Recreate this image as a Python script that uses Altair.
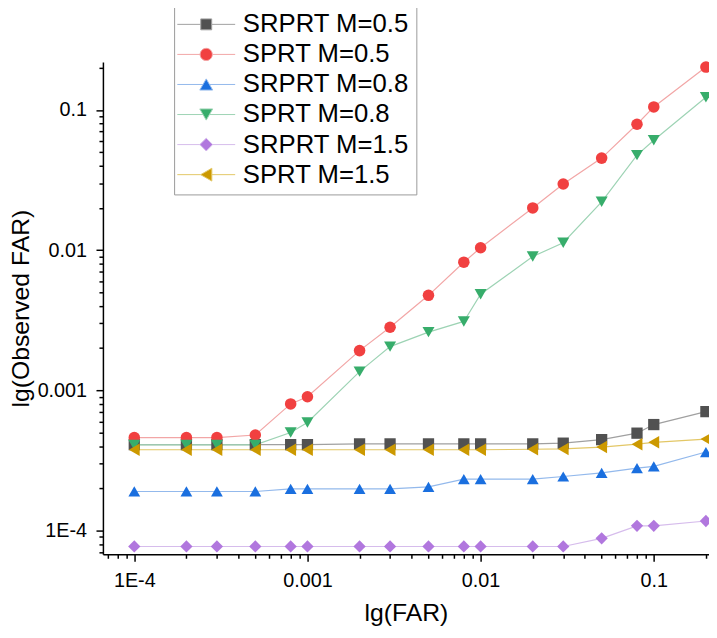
import altair as alt
import pandas as pd

FONT = "Liberation Sans"

# ---------------- data ----------------
FAR = [1e-4, 2e-4, 3e-4, 5e-4, 8e-4, 1e-3, 2e-3, 3e-3, 5e-3, 8e-3,
       1e-2, 2e-2, 3e-2, 5e-2, 8e-2, 0.1, 0.2]

SERIES = ["SRPRT M=0.5", "SPRT M=0.5", "SRPRT M=0.8",
          "SPRT M=0.8", "SRPRT M=1.5", "SPRT M=1.5"]

srprt_05 = [4.1e-4, 4.1e-4, 4.1e-4, 4.1e-4, 4.1e-4, 4.1e-4, 4.15e-4, 4.15e-4, 4.15e-4,
            4.15e-4, 4.15e-4, 4.15e-4, 4.2e-4, 4.45e-4, 4.95e-4, 5.7e-4, 7.05e-4]
sprt_05 = [4.6e-4, 4.6e-4, 4.6e-4, 4.8e-4, 8.0e-4, 9.0e-4, 1.92e-3, 2.82e-3, 4.76e-3,
           8.2e-3, 1.04e-2, 2.0e-2, 2.96e-2, 4.53e-2, 7.9e-2, 0.105, 0.202]
srprt_08 = [1.9e-4, 1.9e-4, 1.9e-4, 1.9e-4, 1.98e-4, 1.98e-4, 1.98e-4, 1.98e-4, 2.05e-4,
            2.33e-4, 2.33e-4, 2.33e-4, 2.43e-4, 2.58e-4, 2.79e-4, 2.87e-4, 3.63e-4]
sprt_08 = [4.08e-4, 4.08e-4, 4.08e-4, 4.08e-4, 5.0e-4, 5.9e-4, 1.36e-3, 2.05e-3, 2.6e-3,
           3.1e-3, 4.85e-3, 9.0e-3, 1.13e-2, 2.21e-2, 4.76e-2, 6.07e-2, 0.123]
srprt_15 = [7.7e-5, 7.7e-5, 7.7e-5, 7.7e-5, 7.7e-5, 7.7e-5, 7.7e-5, 7.7e-5, 7.7e-5,
            7.7e-5, 7.7e-5, 7.7e-5, 7.7e-5, 8.8e-5, 1.08e-4, 1.08e-4, 1.17e-4]
sprt_15 = [3.77e-4, 3.77e-4, 3.77e-4, 3.77e-4, 3.77e-4, 3.77e-4, 3.77e-4, 3.77e-4, 3.77e-4,
           3.77e-4, 3.77e-4, 3.8e-4, 3.82e-4, 3.94e-4, 4.13e-4, 4.26e-4, 4.49e-4]

VALUES = [srprt_05, sprt_05, srprt_08, sprt_08, srprt_15, sprt_15]

X_TICKS = [1e-4, 1e-3, 1e-2, 1e-1]
X_TICK_LABELS = ["1E-4", "0.001", "0.01", "0.1"]
Y_TICKS = [1e-4, 1e-3, 1e-2, 1e-1]
Y_TICK_LABELS = ["1E-4", "0.001", "0.01", "0.1"]

X_TITLE = "lg(FAR)"
Y_TITLE = "lg(Observed FAR)"

# ---------------- styles ----------------
COLORS = ["#515151", "#F14040", "#1A6FDF", "#37AD6B", "#B177DE", "#CC9900"]
LINE_COLORS = ["#a0a0a0", "#f2a6a6", "#93b9ec", "#9dd3b4", "#d6bcec", "#e3c766"]
SHAPES = ["square", "circle", "triangle-up", "triangle-down", "diamond", "triangle-left"]
SIZES = [130, 160, 190, 190, 180, 190]
LEG_PATHS = [
    "M-4.5,0H-0.85M0.85,0H4.5M-0.85,-0.85H0.85V0.85H-0.85Z",
    "M-4.5,0H-0.95M0.95,0H4.5M-0.95,0A0.95,0.95,0,1,0,0.95,0A0.95,0.95,0,1,0,-0.95,0Z",
    "M-4.5,0H-0.5M0.5,0H4.5M0,-0.87L1,0.87L-1,0.87Z",
    "M-4.5,0H-0.5M0.5,0H4.5M0,0.87L1,-0.87L-1,-0.87Z",
    "M-4.5,0H-1M1,0H4.5M-1,0L0,-1L1,0L0,1Z",
    "M-4.5,0H-0.87M0.87,0H4.5M-0.87,0L0.87,-1L0.87,1Z",
]

rows = []
for name, vals in zip(SERIES, VALUES):
    for f, v in zip(FAR, vals):
        rows.append({"far": f, "obs": v, "series": name})
df = pd.DataFrame(rows)


def label_expr(ticks, labels):
    expr = "'" + labels[-1] + "'"
    for i in range(len(ticks) - 2, -1, -1):
        mid = (ticks[i] * ticks[i + 1]) ** 0.5
        expr = f"datum.value < {mid} ? '{labels[i]}' : ({expr})"
    return expr


def minor_values(lo_exp, hi_exp):
    out = []
    for e in range(lo_exp, hi_exp + 1):
        for m in range(2, 10):
            out.append(m * 10.0 ** e)
    return out


X_LO, X_HI = 6.59e-5, 0.2084
Y_LO, Y_HI = 6.77e-5, 0.2198

X_MINOR = [v for v in minor_values(-5, -1) if X_LO <= v <= X_HI]
Y_MINOR = [v for v in minor_values(-5, -1) if Y_LO <= v <= Y_HI]

xscale = alt.Scale(type="log", domain=[X_LO, X_HI], nice=False)
yscale = alt.Scale(type="log", domain=[Y_LO, Y_HI], nice=False)

common_axis = dict(grid=False, tickColor="black", tickWidth=1.5, labelFont=FONT,
                   labelColor="black", titleFont=FONT, titleColor="black",
                   titleFontWeight="normal", labelFlush=False, labelOverlap=False)

x_major = alt.Axis(values=X_TICKS, labelExpr=label_expr(X_TICKS, X_TICK_LABELS),
                   title=X_TITLE, orient="bottom", domainColor="black", domainWidth=1.5,
                   tickSize=7, labelFontSize=20, labelPadding=9.5, titleFontSize=25,
                   titlePadding=10, **common_axis)
y_major = alt.Axis(values=Y_TICKS, labelExpr=label_expr(Y_TICKS, Y_TICK_LABELS),
                   title=Y_TITLE, orient="left", domainColor="black", domainWidth=1.5,
                   tickSize=7, labelFontSize=20, labelPadding=9.5, titleFontSize=25,
                   titlePadding=4, **common_axis)
x_minor = alt.Axis(values=X_MINOR, labels=False, title=None, orient="bottom", domain=False,
                   tickSize=4, grid=False, tickColor="black", tickWidth=1.5)
y_minor = alt.Axis(values=Y_MINOR, labels=False, title=None, orient="left", domain=False,
                   tickSize=4, grid=False, tickColor="black", tickWidth=1.5)

lines = alt.Chart(df).mark_line(strokeWidth=1.2).encode(
    x=alt.X("far:Q", scale=xscale, axis=x_major),
    y=alt.Y("obs:Q", scale=yscale, axis=y_major),
    stroke=alt.Stroke("series:N", scale=alt.Scale(domain=SERIES, range=LINE_COLORS), legend=None),
    order=alt.Order("far:Q"),
)

points = alt.Chart(df).mark_point(filled=True, opacity=1).encode(
    x=alt.X("far:Q", scale=xscale, axis=x_minor),
    y=alt.Y("obs:Q", scale=yscale, axis=y_minor),
    fill=alt.Fill("series:N", scale=alt.Scale(domain=SERIES, range=COLORS), legend=None),
    shape=alt.Shape("series:N", scale=alt.Scale(domain=SERIES, range=SHAPES), legend=None),
    size=alt.Size("series:N", scale=alt.Scale(domain=SERIES, range=SIZES), legend=None),
)

leg = alt.Legend(title=None, orient="none", legendX=72, legendY=-58, padding=7,
                 strokeColor="#9a9a9a", fillColor="white", symbolSize=169,
                 symbolStrokeWidth=1, symbolOffset=12.5, labelOffset=24,
                 labelFontSize=26, labelFont=FONT, labelColor="black",
                 rowPadding=4.4, labelLimit=400, labelExpr="datum.label + '\u00a0'")

legend_layer = alt.Chart(df).transform_filter("false").mark_point(filled=True, opacity=1).encode(
    x=alt.X("far:Q", scale=xscale, axis=None),
    y=alt.Y("obs:Q", scale=yscale, axis=None),
    fill=alt.Fill("series:N", scale=alt.Scale(domain=SERIES, range=COLORS), legend=leg),
    stroke=alt.Stroke("series:N", scale=alt.Scale(domain=SERIES, range=LINE_COLORS), legend=leg),
    shape=alt.Shape("series:N", scale=alt.Scale(domain=SERIES, range=LEG_PATHS), legend=leg),
)

chart = alt.layer(lines, points, legend_layer).resolve_scale(
    fill="independent", stroke="independent", shape="independent", size="independent"
).resolve_axis(
    x="independent", y="independent"
).properties(
    width=613, height=498,
    autosize=alt.AutoSizeParams(type="none"),
    padding={"left": 96, "top": 51, "right": 0, "bottom": 73},
).configure_view(stroke=None)

chart.save("out.html", embed_options={"renderer": "svg", "actions": False})
